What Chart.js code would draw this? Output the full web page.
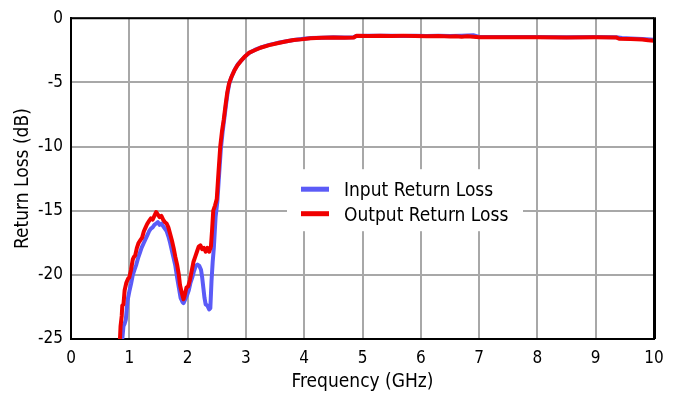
<!DOCTYPE html>
<html>
<head>
<meta charset="utf-8">
<script src="https://cdn.jsdelivr.net/npm/chart.js@4.4.1/dist/chart.umd.min.js"></script>
<style>
  html, body { margin: 0; padding: 0; background: #fff; }
  #wrap { width: 676px; height: 397px; }
</style>
</head>
<body>
<div id="wrap"><canvas id="rl"></canvas></div>
<script>
// Measured return loss, frequency in GHz, loss in dB
const inputFreq = [0.88, 0.90, 0.92, 0.94, 0.97, 1.00, 1.03, 1.06, 1.09, 1.12, 1.15, 1.18, 1.21, 1.25, 1.28,
  1.31, 1.34, 1.37, 1.40, 1.43, 1.46, 1.49, 1.52, 1.55, 1.58, 1.61, 1.64, 1.67, 1.70, 1.73, 1.76, 1.79,
  1.82, 1.85, 1.88, 1.91, 1.93, 1.96, 1.99, 2.02, 2.05, 2.08, 2.11, 2.14, 2.17, 2.20, 2.23, 2.25, 2.27,
  2.29, 2.31, 2.34, 2.37, 2.39, 2.41, 2.43, 2.45, 2.48, 2.51, 2.54, 2.57, 2.60, 2.63, 2.66, 2.69, 2.72,
  2.76, 2.81, 2.86, 2.92, 2.99, 3.06, 3.16, 3.26, 3.40, 3.55, 3.70, 3.82, 3.95, 4.11, 4.30, 4.50, 4.70,
  4.85, 4.90, 5.10, 5.30, 5.50, 5.70, 5.90, 6.10, 6.30, 6.50, 6.70, 6.90, 7.00, 7.50, 8.00, 8.50, 9.00,
  9.35, 9.45, 9.60, 9.80, 10.0];
const inputLoss = [-25.0, -24.0, -23.8, -23.5, -22.0, -21.3, -20.7, -20.0, -19.6, -19.2, -18.7, -18.3, -17.9, -17.5, -17.2,
  -16.9, -16.6, -16.4, -16.3, -16.1, -16.0, -15.9, -16.1, -16.0, -16.2, -16.4, -16.6, -17.0, -17.5, -18.1, -18.7, -19.3,
  -20.2, -21.0, -21.8, -22.1, -22.2, -21.9, -21.6, -21.2, -20.6, -20.2, -19.7, -19.3, -19.2, -19.3, -19.6, -20.2, -21.0,
  -21.8, -22.3, -22.4, -22.7, -22.6, -20.5, -19.0, -17.9, -15.5, -14.3, -12.2, -10.2, -8.9, -7.8, -6.7, -5.7, -5.0,
  -4.5, -4.0, -3.6, -3.3, -2.95, -2.7, -2.45, -2.28, -2.08, -1.92, -1.8, -1.7, -1.62, -1.55, -1.52, -1.48, -1.5,
  -1.48, -1.38, -1.36, -1.37, -1.36, -1.38, -1.37, -1.38, -1.36, -1.38, -1.36, -1.33, -1.46, -1.47, -1.47, -1.48, -1.47,
  -1.48, -1.55, -1.58, -1.62, -1.68];

const outputFreq = [0.84, 0.85, 0.87, 0.88, 0.90, 0.92, 0.95, 0.98, 1.00, 1.03, 1.06, 1.08, 1.10, 1.13, 1.16,
  1.19, 1.22, 1.25, 1.28, 1.31, 1.34, 1.37, 1.40, 1.43, 1.46, 1.49, 1.52, 1.55, 1.58, 1.61, 1.64, 1.67,
  1.70, 1.73, 1.76, 1.79, 1.82, 1.85, 1.87, 1.90, 1.93, 1.95, 1.98, 2.01, 2.04, 2.07, 2.10, 2.13, 2.16,
  2.19, 2.22, 2.25, 2.28, 2.31, 2.34, 2.37, 2.40, 2.42, 2.44, 2.47, 2.50, 2.53, 2.56, 2.59, 2.62, 2.65,
  2.68, 2.71, 2.75, 2.80, 2.85, 2.91, 2.98, 3.05, 3.15, 3.25, 3.40, 3.54, 3.70, 3.82, 3.95, 4.11, 4.30,
  4.50, 4.70, 4.85, 4.90, 5.10, 5.30, 5.50, 5.70, 5.90, 6.10, 6.30, 6.50, 6.60, 6.70, 6.80, 6.90, 7.00,
  7.50, 8.00, 8.50, 9.00, 9.35, 9.40, 9.60, 9.80, 9.90, 10.0];
const outputLoss = [-25.0, -24.0, -23.2, -22.4, -22.3, -21.2, -20.6, -20.3, -20.2, -19.6, -18.8, -18.6, -18.5, -17.9, -17.5,
  -17.3, -17.1, -16.6, -16.3, -16.0, -15.8, -15.6, -15.7, -15.4, -15.1, -15.3, -15.5, -15.4, -15.7, -15.9, -16.0, -16.3,
  -16.8, -17.3, -17.9, -18.6, -19.2, -20.0, -20.8, -21.4, -21.9, -21.6, -21.0, -20.9, -20.4, -19.7, -19.0, -18.6, -18.2,
  -17.8, -17.7, -18.0, -17.9, -18.2, -17.9, -18.2, -17.8, -16.5, -15.0, -14.6, -14.1, -12.0, -10.0, -8.8, -7.9, -6.8,
  -5.8, -5.1, -4.6, -4.1, -3.7, -3.35, -3.0, -2.7, -2.5, -2.3, -2.1, -1.95, -1.8, -1.7, -1.65, -1.56, -1.52,
  -1.50, -1.52, -1.50, -1.36, -1.38, -1.36, -1.38, -1.37, -1.38, -1.40, -1.39, -1.42, -1.40, -1.44, -1.40, -1.44, -1.48,
  -1.48, -1.48, -1.50, -1.48, -1.50, -1.60, -1.62, -1.66, -1.72, -1.75];

const xTicks = [0, 1, 2, 3, 4, 5, 6, 7, 8, 9, 10];
const yTicks = [0, -5, -10, -15, -20, -25];

const FONT = "'DejaVu Sans Condensed', 'DejaVu Sans', sans-serif";

function pairs(xs, ys) {
  return xs.map((x, i) => ({ x: x, y: ys[i] }));
}

// black frame on top and right, right edge a bit heavier
const framePlugin = {
  id: 'frame',
  afterDatasetsDraw(chart) {
    const { ctx, chartArea: a } = chart;
    ctx.save();
    ctx.strokeStyle = '#000';
    ctx.lineWidth = 2;
    ctx.beginPath();
    ctx.moveTo(a.left, a.top);
    ctx.lineTo(a.right, a.top);
    ctx.stroke();
    ctx.lineWidth = 3;
    ctx.beginPath();
    ctx.moveTo(a.right + 0.5, a.top - 1);
    ctx.lineTo(a.right + 0.5, a.bottom);
    ctx.stroke();
    ctx.restore();
  }
};

// legend boxed inside the plot area
const boxLegend = {
  id: 'boxLegend',
  afterDraw(chart) {
    const { ctx, chartArea: a } = chart;
    const x0 = a.left + 216, y0 = a.top + 151;
    ctx.save();
    ctx.fillStyle = '#fff';
    ctx.fillRect(x0, y0, 236, 62);
    ctx.font = '19px ' + FONT;
    ctx.textBaseline = 'middle';
    chart.data.datasets.forEach((ds, i) => {
      const y = y0 + 20 + i * 24.5;
      ctx.strokeStyle = ds.borderColor;
      ctx.lineWidth = 5;
      ctx.beginPath();
      ctx.moveTo(x0 + 14, y);
      ctx.lineTo(x0 + 42, y);
      ctx.stroke();
      ctx.fillStyle = '#000';
      ctx.fillText(ds.label, x0 + 57, y + 2);
    });
    ctx.restore();
  }
};

new Chart(document.getElementById('rl'), {
  type: 'line',
  data: {
    datasets: [
      { label: 'Input Return Loss', data: pairs(inputFreq, inputLoss), borderColor: '#5b5bf7', order: 1 },
      { label: 'Output Return Loss', data: pairs(outputFreq, outputLoss), borderColor: '#f00000', order: 0 }
    ]
  },
  options: {
    responsive: true,
    maintainAspectRatio: false,
    animation: false,
    layout: { padding: { left: 0, top: 13, right: 22, bottom: 0 } },
    elements: {
      line: { borderWidth: 4, tension: 0, borderJoinStyle: 'round', borderCapStyle: 'round' },
      point: { radius: 0 }
    },
    plugins: {
      legend: { display: false },
      tooltip: { enabled: false }
    },
    scales: {
      x: {
        type: 'linear',
        min: 0,
        max: 10,
        afterBuildTicks(scale) { scale.ticks = xTicks.map(v => ({ value: v })); },
        afterFit(scale) { scale.height = 58; },
        grid: { color: '#a8a8a8', lineWidth: 2, drawTicks: false },
        border: { color: '#000', width: 2 },
        ticks: { color: '#000', font: { family: FONT, size: 17 }, padding: 9, maxRotation: 0 },
        title: { display: true, text: 'Frequency (GHz)', color: '#000', font: { family: FONT, size: 19 }, padding: { top: 0, bottom: 4 } }
      },
      y: {
        type: 'linear',
        min: -25,
        max: 0,
        afterBuildTicks(scale) { scale.ticks = yTicks.map(v => ({ value: v })); },
        afterFit(scale) { scale.width = 71; },
        grid: { color: '#a8a8a8', lineWidth: 2, drawTicks: false },
        border: { color: '#000', width: 2 },
        ticks: { color: '#000', font: { family: FONT, size: 17 }, padding: 8 },
        title: { display: true, text: 'Return Loss (dB)', color: '#000', font: { family: FONT, size: 19 }, padding: { top: 12, bottom: 0 } }
      }
    }
  },
  plugins: [framePlugin, boxLegend]
});
</script>
</body>
</html>
